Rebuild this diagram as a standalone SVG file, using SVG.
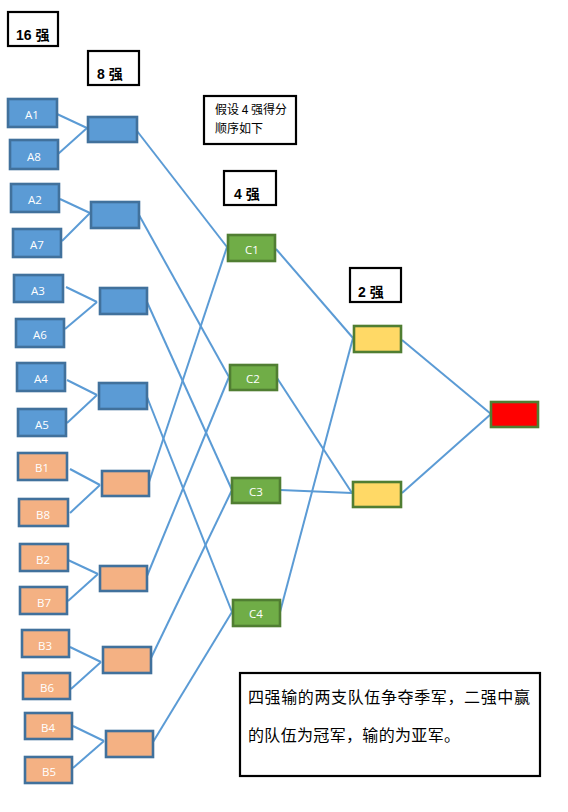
<svg xmlns="http://www.w3.org/2000/svg" width="568" height="812" viewBox="0 0 568 812">
<style>
.hdr{fill:#fff;stroke:#000;stroke-width:2.2}
.ht{font-family:"Liberation Sans","Noto Sans CJK SC",sans-serif;font-size:14px;font-weight:bold;fill:#000}
.nt{font-family:"Noto Sans CJK SC",sans-serif;font-size:12px;fill:#000}
.bt{font-family:"Noto Sans CJK SC",sans-serif;font-size:16px;fill:#000}
.a{fill:#5b9bd5;stroke:#41719c;stroke-width:2.6}
.b{fill:#f4b183;stroke:#41719c;stroke-width:2.6}
.c{fill:#70ad47;stroke:#507e32;stroke-width:2.6}
.f{fill:#ffd966;stroke:#507e32;stroke-width:2.6}
.w{fill:#ff0000;stroke:#507e32;stroke-width:2.6}
.lt{font-family:"Open Sans","Liberation Sans",sans-serif;font-size:11.5px;fill:#fff;text-anchor:middle;dominant-baseline:central}
#connectors line{stroke:#5b9bd5;stroke-width:2}
</style>
<rect width="568" height="812" fill="#fff"/>

<g id="connectors">
<line x1="57" y1="114" x2="87" y2="128"/>
<line x1="58" y1="154" x2="87" y2="128"/>
<line x1="60" y1="199" x2="90" y2="213"/>
<line x1="62" y1="241" x2="90" y2="213"/>
<line x1="66" y1="287" x2="97" y2="302"/>
<line x1="65" y1="329" x2="97" y2="302"/>
<line x1="67" y1="380" x2="97" y2="395"/>
<line x1="67" y1="423" x2="97" y2="395"/>
<line x1="70" y1="469" x2="100" y2="485"/>
<line x1="70" y1="513" x2="100" y2="485"/>
<line x1="68" y1="560" x2="98" y2="574"/>
<line x1="68" y1="601" x2="98" y2="574"/>
<line x1="70" y1="647" x2="101" y2="662"/>
<line x1="71" y1="689" x2="101" y2="662"/>
<line x1="73" y1="726" x2="104" y2="741"/>
<line x1="73" y1="768" x2="104" y2="741"/>
<line x1="137" y1="131" x2="227" y2="247"/>
<line x1="139" y1="215" x2="229" y2="377"/>
<line x1="147" y1="302" x2="232" y2="490"/>
<line x1="147" y1="397" x2="232" y2="612"/>
<line x1="149" y1="482" x2="227" y2="247"/>
<line x1="147" y1="576" x2="229" y2="377"/>
<line x1="151" y1="658" x2="232" y2="490"/>
<line x1="153" y1="742" x2="232" y2="612"/>
<line x1="276" y1="249" x2="353" y2="338"/>
<line x1="277" y1="378" x2="352" y2="493"/>
<line x1="280" y1="490" x2="352" y2="493"/>
<line x1="280" y1="612" x2="353" y2="338"/>
<line x1="402" y1="340" x2="491" y2="414"/>
<line x1="402" y1="493" x2="491" y2="414"/>
</g>

<g id="h16"><rect class="hdr" x="8" y="12" width="50" height="34"/><text class="ht" x="16" y="40">16 强</text></g>
<g id="h8"><rect class="hdr" x="88" y="51" width="51" height="34"/><text class="ht" x="97" y="79">8 强</text></g>
<g id="h4"><rect class="hdr" x="224" y="171" width="52" height="34"/><text class="ht" x="234" y="199">4 强</text></g>
<g id="h2"><rect class="hdr" x="350" y="268" width="51" height="34"/><text class="ht" x="358" y="297">2 强</text></g>

<g id="note1"><rect class="hdr" x="204" y="96" width="92" height="48"/>
<text class="nt" x="215" y="114">假设 4 强得分</text>
<text class="nt" x="215" y="133">顺序如下</text></g>

<g id="A1"><rect class="a" x="8" y="99" width="49" height="28"/><text class="lt" x="32" y="114">A1</text></g>
<g id="A8"><rect class="a" x="10" y="140" width="48" height="29"/><text class="lt" x="34" y="156">A8</text></g>
<g id="A2"><rect class="a" x="11" y="184" width="48" height="28"/><text class="lt" x="35" y="199">A2</text></g>
<g id="A7"><rect class="a" x="13" y="229" width="48" height="28"/><text class="lt" x="37" y="244">A7</text></g>
<g id="A3"><rect class="a" x="14" y="275" width="49" height="27"/><text class="lt" x="38" y="290">A3</text></g>
<g id="A6"><rect class="a" x="16" y="319" width="48" height="28"/><text class="lt" x="40" y="334">A6</text></g>
<g id="A4"><rect class="a" x="17" y="363" width="48" height="28"/><text class="lt" x="41" y="378">A4</text></g>
<g id="A5"><rect class="a" x="18" y="409" width="48" height="27"/><text class="lt" x="42" y="424">A5</text></g>
<g id="B1"><rect class="b" x="18" y="453" width="49" height="27"/><text class="lt" x="42" y="467">B1</text></g>
<g id="B8"><rect class="b" x="19" y="499" width="49" height="27"/><text class="lt" x="43" y="514">B8</text></g>
<g id="B2"><rect class="b" x="20" y="544" width="48" height="27"/><text class="lt" x="43" y="559">B2</text></g>
<g id="B7"><rect class="b" x="20" y="587" width="47" height="27"/><text class="lt" x="44" y="602">B7</text></g>
<g id="B3"><rect class="b" x="22" y="630" width="47" height="27"/><text class="lt" x="45" y="645">B3</text></g>
<g id="B6"><rect class="b" x="23" y="673" width="47" height="26"/><text class="lt" x="47" y="687">B6</text></g>
<g id="B4"><rect class="b" x="25" y="713" width="47" height="26"/><text class="lt" x="48" y="727">B4</text></g>
<g id="B5"><rect class="b" x="25" y="757" width="47" height="26"/><text class="lt" x="49" y="771">B5</text></g>

<g id="QA1"><rect class="a" x="88" y="117" width="49" height="25"/></g>
<g id="QA2"><rect class="a" x="91" y="202" width="48" height="26"/></g>
<g id="QA3"><rect class="a" x="100" y="288" width="47" height="26"/></g>
<g id="QA4"><rect class="a" x="99" y="383" width="48" height="26"/></g>
<g id="QB1"><rect class="b" x="102" y="471" width="47" height="25"/></g>
<g id="QB2"><rect class="b" x="100" y="566" width="47" height="25"/></g>
<g id="QB3"><rect class="b" x="103" y="647" width="48" height="26"/></g>
<g id="QB4"><rect class="b" x="106" y="731" width="47" height="26"/></g>

<g id="C1"><rect class="c" x="228" y="235" width="47" height="26"/><text class="lt" x="252" y="249">C1</text></g>
<g id="C2"><rect class="c" x="230" y="365" width="47" height="25"/><text class="lt" x="253" y="378">C2</text></g>
<g id="C3"><rect class="c" x="232" y="478" width="48" height="25"/><text class="lt" x="256" y="491">C3</text></g>
<g id="C4"><rect class="c" x="233" y="600" width="47" height="26"/><text class="lt" x="256" y="613">C4</text></g>

<g id="F1"><rect class="f" x="354" y="326" width="47" height="26"/></g>
<g id="F2"><rect class="f" x="353" y="482" width="48" height="25"/></g>
<g id="W"><rect class="w" x="491" y="402" width="47" height="25"/></g>

<g id="note2"><rect class="hdr" x="240" y="673" width="300" height="103"/>
<text class="bt" x="248" y="703" textLength="282" lengthAdjust="spacing">四强输的两支队伍争夺季军，二强中赢</text>
<text class="bt" x="248" y="741" textLength="212" lengthAdjust="spacing">的队伍为冠军，输的为亚军。</text></g>
</svg>
